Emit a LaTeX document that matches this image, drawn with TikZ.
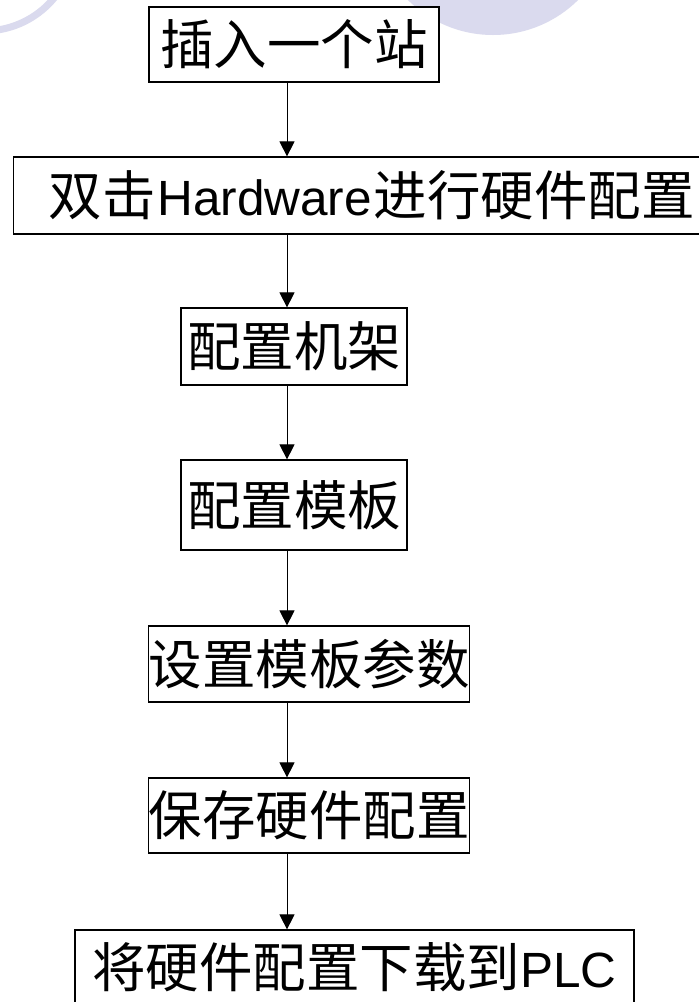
\documentclass[tikz,border=0pt]{standalone}
\usepackage{fontspec}
\setmainfont{Liberation Sans}
\newfontfamily\cjk{Noto Sans CJK SC}
\usetikzlibrary{arrows.meta}
\definecolor{lav}{RGB}{218,218,238}
\newcommand\zh[1]{{\cjk\fontsize{53.5}{60}\selectfont #1}}
\newcommand\la[1]{{\fontsize{49.5}{55}\selectfont #1}}
\tikzset{
  box/.style={draw=black, line width=1.2pt, fill=white, inner sep=0pt, minimum height=#1},
  arr/.style={line width=0.9pt, -{Triangle[width=15pt,length=15pt]}}
}
\begin{document}
\begin{tikzpicture}[x=1pt,y=-1pt]
\useasboundingbox (0,0) rectangle (699,1002);
\clip (0,0) rectangle (699,1002);
\fill[white] (0,0) rectangle (699,1002);
% background decoration
\draw[lav, line width=7pt] (-16,-60) circle[radius=91];
\fill[lav] (493,-86) circle[radius=121];
\coordinate (ax) at (287,0);
% boxes
\node[box=75, minimum width=290] (b1) at (294,44.5) {\zh{插入一个站}};
\node[box=77, anchor=west, inner xsep=35pt, text width=720pt, align=left] (b2) at (13,195.5) {\zh{双击}\,\la{Hardware}\,\zh{进行硬件配置}};
\node[box=77, minimum width=226] (b3) at (294,346.5) {\zh{配置机架}};
\node[box=90, minimum width=226] (b4) at (294,505) {\zh{配置模板}};
\node[box=76, minimum width=318] (b5) at (309,664) {\zh{设置模板参数}};
\node[box=75, minimum width=318] (b6) at (309,815.5) {\zh{保存硬件配置}};
\node[box=74, minimum width=559] (b7) at (354.5,967) {\zh{将硬件配置下载到}\la{PLC}};
% connectors
\draw[arr] (b1.south -| ax) -- (b2.north -| ax);
\draw[arr] (b2.south -| ax) -- (b3.north -| ax);
\draw[arr] (b3.south -| ax) -- (b4.north -| ax);
\draw[arr] (b4.south -| ax) -- (b5.north -| ax);
\draw[arr] (b5.south -| ax) -- (b6.north -| ax);
\draw[arr] (b6.south -| ax) -- (b7.north -| ax);
\end{tikzpicture}
\end{document}
